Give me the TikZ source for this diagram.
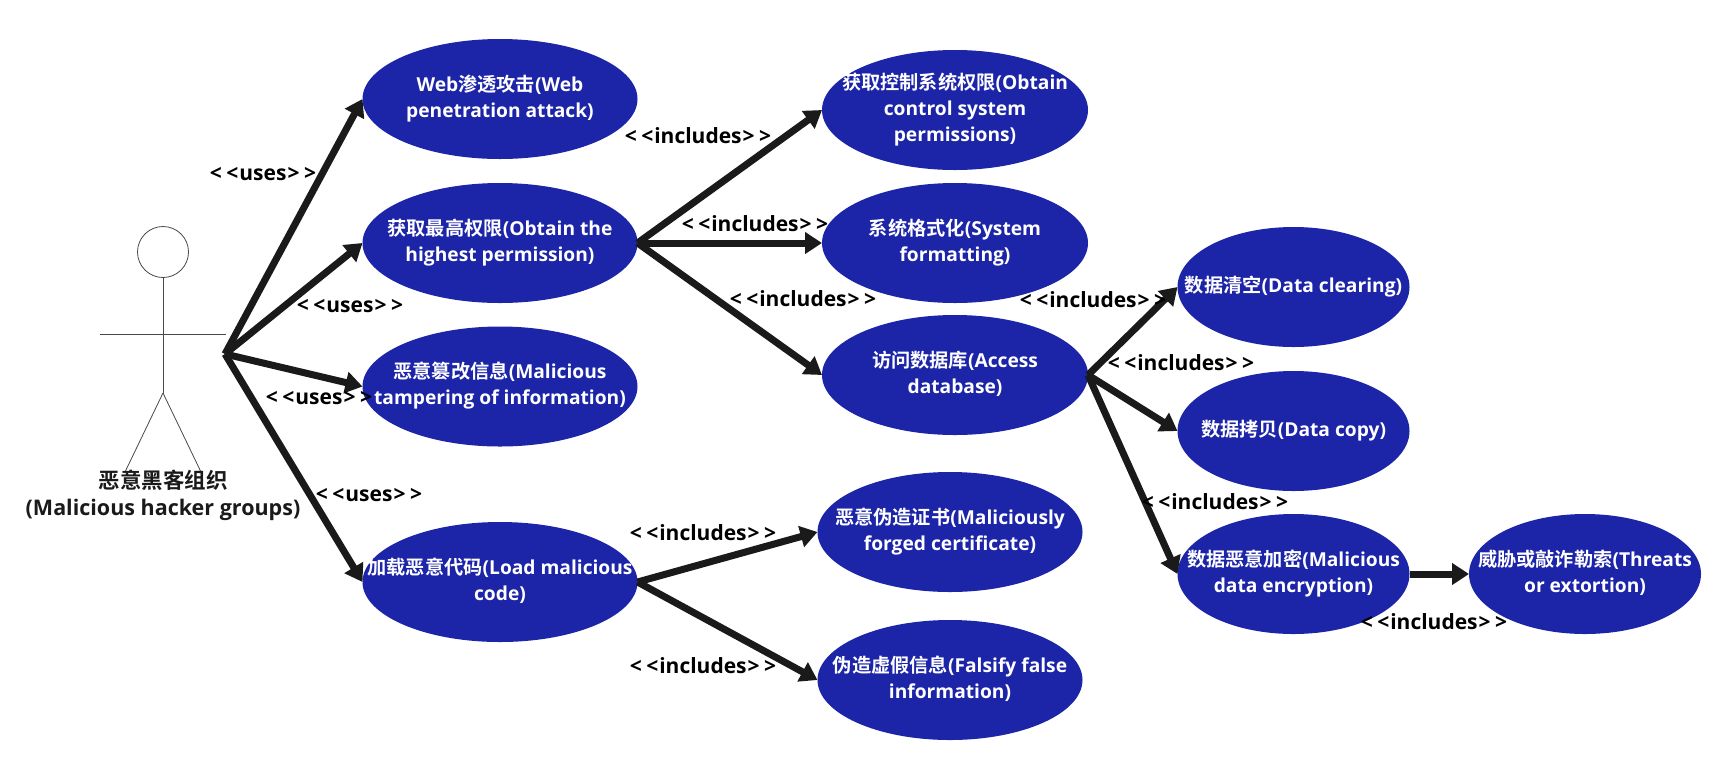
\documentclass[tikz,border=0pt]{standalone}
\usepackage{fontspec}
\setmainfont{Open Sans}[BoldFont={Open Sans Bold}]
\newfontfamily\cjk{Noto Sans CJK SC}[BoldFont={Noto Sans CJK SC Bold}]
\newcommand{\cn}[1]{{\cjk #1}}
\newcommand{\fitin}[1]{\raisebox{-1pt}{\makebox[100pt]{\begin{tabular}{@{}c@{}}#1\end{tabular}}}}
\usetikzlibrary{arrows.meta,shapes.geometric}
\definecolor{ucblue}{HTML}{1C24A8}
\definecolor{ink}{HTML}{1A1A1A}
\tikzset{
  usecase/.style={ellipse,fill=ucblue,text=white,inner sep=0pt,outer sep=0pt,
    minimum width=#1,minimum height=120pt,font=\fontsize{19.2}{26}\selectfont\bfseries},
  usecase/.default=275pt,
  conn/.style={draw=ink,line width=7pt,-{Triangle[length=17pt,width=21pt]}},
  lbl/.style={text=black,inner sep=0pt,font=\fontsize{21}{24}\selectfont\bfseries},
  limb/.style={draw=ink!80,line width=0.8pt},
  who/.style={text=ink,inner sep=0pt,align=center,font=\fontsize{21.5}{27}\selectfont\bfseries}
}
\newcommand{\lt}{<\kern4.5pt<\kern1pt}
\newcommand{\gt}{\kern1pt>\kern4.5pt>}
\begin{document}
\begin{tikzpicture}[x=1pt,y=-1pt]
\useasboundingbox (0,0) rectangle (1723,772);
% actor
\node[circle,draw=ink!80,line width=0.8pt,minimum size=51pt,inner sep=0pt,outer sep=0pt] (head) at (163,252) {};
\coordinate (hip) at (163,393);
\coordinate (armL) at (100,334);
\coordinate (armR) at (226,334);
\coordinate (footL) at (125,472);
\coordinate (footR) at (201,472);
\coordinate (hub) at (225,354);
\draw[limb] (head.south) -- (hip);
\draw[limb] (armL) -- (armR);
\draw[limb] (hip) -- (footL);
\draw[limb] (hip) -- (footR);
\node[who] (actor) at (163,495) {\cn{恶意黑客组织}\\(Malicious hacker groups)};
% use cases
\node[usecase] (web) at (500,99) {\fitin{Web\cn{渗透攻击}(Web\\penetration attack)}};
\node[usecase] (high) at (500,243) {\fitin{\cn{获取最高权限}(Obtain the\\highest permission)}};
\node[usecase] (tamper) at (500,386.5) {\fitin{\cn{恶意篡改信息}(Malicious\\tampering of information)}};
\node[usecase] (load) at (500,582) {\fitin{\cn{加载恶意代码}(Load malicious\\code)}};
\node[usecase=266pt] (ctrl) at (955,110) {\fitin{\cn{获取控制系统权限}(Obtain\\control system\\permissions)}};
\node[usecase=266pt] (fmt) at (955,243) {\fitin{\cn{系统格式化}(System\\formatting)}};
\node[usecase=266pt] (db) at (955,375) {\fitin{\cn{访问数据库}(Access\\database)}};
\node[usecase=265pt] (cert) at (950,532) {\fitin{\cn{恶意伪造证书}(Maliciously\\forged certificate)}};
\node[usecase=265pt] (fake) at (950,680) {\fitin{\cn{伪造虚假信息}(Falsify false\\information)}};
\node[usecase=232pt] (clear) at (1293.5,287) {\fitin{\cn{数据清空}(Data clearing)}};
\node[usecase=232pt] (copy) at (1293.5,431) {\fitin{\cn{数据拷贝}(Data copy)}};
\node[usecase=232pt] (enc) at (1293.5,574) {\fitin{\cn{数据恶意加密}(Malicious\\data encryption)}};
\node[usecase=232pt] (threat) at (1585,574) {\fitin{\cn{威胁或敲诈勒索}(Threats\\or extortion)}};
% connectors
\draw[conn] (hub) -- (web.west);
\draw[conn] (hub) -- (high.west);
\draw[conn] (hub) -- (tamper.west);
\draw[conn] (hub) -- (load.west);
\draw[conn] (high.east) -- (ctrl.west);
\draw[conn] (high.east) -- (fmt.west);
\draw[conn] (high.east) -- (db.west);
\draw[conn] (load.east) -- (cert.west);
\draw[conn] (load.east) -- (fake.west);
\draw[conn] (db.east) -- (clear.west);
\draw[conn] (db.east) -- (copy.west);
\draw[conn] (db.east) -- (enc.west);
\draw[conn] (enc.east) -- (threat.west);
% labels
\node[lbl] (u1) at (263,174) {\lt uses\gt};
\node[lbl] (u2) at (350,306) {\lt uses\gt};
\node[lbl] (u3) at (319,398) {\lt uses\gt};
\node[lbl] (u4) at (369,495) {\lt uses\gt};
\node[lbl] (i1) at (698,136) {\lt includes\gt};
\node[lbl] (i2) at (755,224) {\lt includes\gt};
\node[lbl] (i3) at (803,299) {\lt includes\gt};
\node[lbl] (i4) at (1093,300) {\lt includes\gt};
\node[lbl] (i5) at (1181,363) {\lt includes\gt};
\node[lbl] (i6) at (1215,502) {\lt includes\gt};
\node[lbl] (i7) at (1434,622) {\lt includes\gt};
\node[lbl] (i8) at (703,533) {\lt includes\gt};
\node[lbl] (i9) at (703,666) {\lt includes\gt};
\end{tikzpicture}
\end{document}
